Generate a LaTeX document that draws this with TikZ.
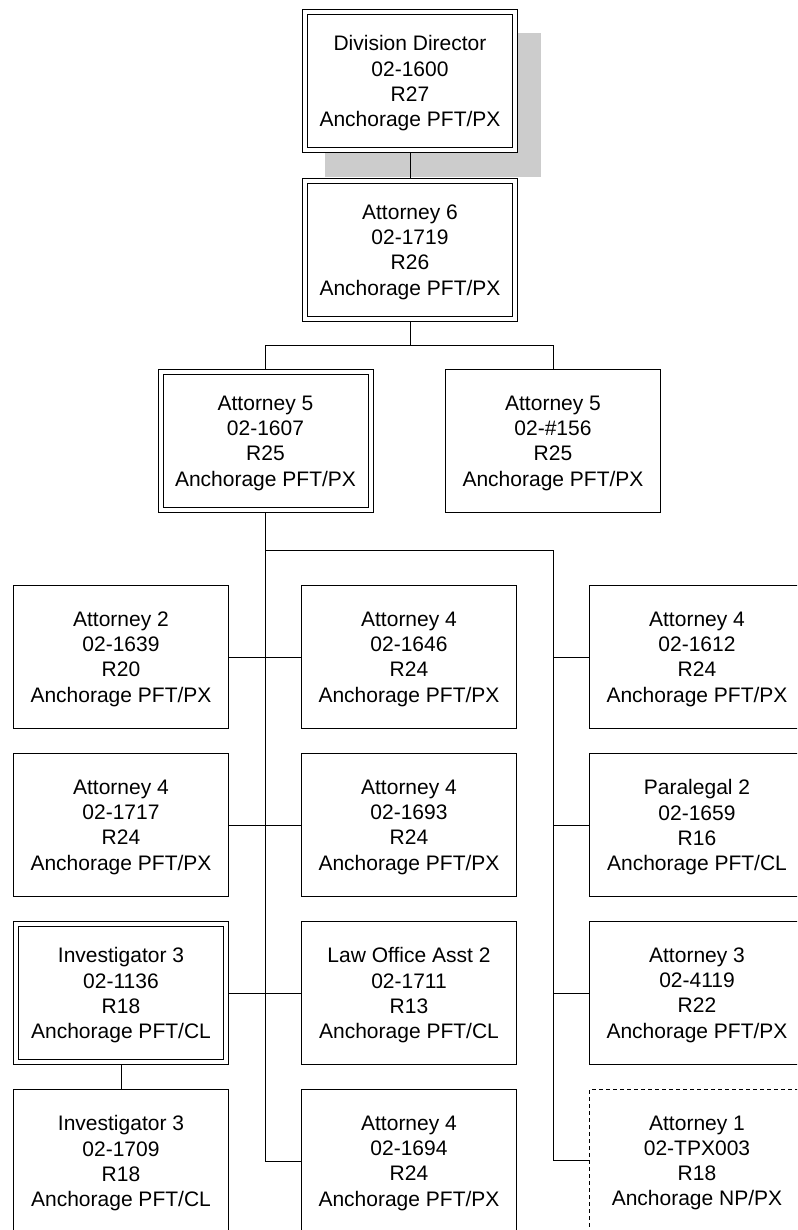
\documentclass[tikz,border=0pt]{standalone}
\usepackage{fontspec}
\setmainfont{Liberation Sans}
\usetikzlibrary{positioning}
\tikzset{post/.style = {draw, fill=white, line width=1pt, inner sep=0, align=center,
                        minimum width=215pt, minimum height=143pt, text depth=0pt,
                        font=\fontsize{21}{25.2}\selectfont}}
\tikzset{dbl/.style = {post, double, double distance=4pt, outer sep=3pt,
                       minimum width=210pt, minimum height=138pt}}
\tikzset{vacant/.style = {post, dash pattern=on 4pt off 3pt, line width=0.8pt}}
\tikzset{link/.style = {line width=1pt}}

\begin{document}
\begin{tikzpicture}[x=1pt, y=-1pt]
      \useasboundingbox (0, 0) rectangle (797, 1230);
      \clip (0, 0) rectangle (797, 1230);

      \fill [black!20] (325, 33) rectangle (541, 177);

      \node [dbl] (dir) at (410, 81) {Division Director\\02-1600\\R27\\Anchorage PFT/PX};
      \node [dbl, below=25pt of dir] (a6) {Attorney 6\\02-1719\\R26\\Anchorage PFT/PX};

      \node [dbl] (a5a) at (265.5, 441) {Attorney 5\\02-1607\\R25\\Anchorage PFT/PX};
      \node [post] (a5b) at (553, 441) {Attorney 5\\02-\#156\\R25\\Anchorage PFT/PX};

      % left column
      \node [post] (l1) at (121, 657) {Attorney 2\\02-1639\\R20\\Anchorage PFT/PX};
      \node [post, below=24pt of l1] (l2) {Attorney 4\\02-1717\\R24\\Anchorage PFT/PX};
      \node [dbl, below=24pt of l2] (l3) {Investigator 3\\02-1136\\R18\\Anchorage PFT/CL};
      \node [post, below=24pt of l3] (l4) {Investigator 3\\02-1709\\R18\\Anchorage PFT/CL};

      % middle column
      \node [post] (m1) at (409, 657) {Attorney 4\\02-1646\\R24\\Anchorage PFT/PX};
      \node [post, below=24pt of m1] (m2) {Attorney 4\\02-1693\\R24\\Anchorage PFT/PX};
      \node [post, below=24pt of m2] (m3) {Law Office Asst 2\\02-1711\\R13\\Anchorage PFT/CL};
      \node [post, below=24pt of m3] (m4) {Attorney 4\\02-1694\\R24\\Anchorage PFT/PX};

      % right column
      \node [post] (r1) at (697, 657) {Attorney 4\\02-1612\\R24\\Anchorage PFT/PX};
      \node [post, below=24pt of r1] (r2) {Paralegal 2\\02-1659\\R16\\Anchorage PFT/CL};
      \node [post, below=24pt of r2] (r3) {Attorney 3\\02-4119\\R22\\Anchorage PFT/PX};
      \node [vacant, below=24pt of r3] (r4) {Attorney 1\\02-TPX003\\R18\\Anchorage NP/PX};

      \draw [link] (dir) -- (a6);
      \draw [link] (a6.south) -- ++(0, 23);
      \draw [link] (a5a.north) -- ++(0, -24) -| (a5b.north);

      \draw [link] (a5a.south) -- (a5a.south |- m4.west) -- (m4.west);
      \path (a5a.south) ++(0, 37) coordinate (bus);
      \draw [link] (bus) -| (a5b.south |- r4.west) -- (r4.west);

      \foreach \i in {1, 2, 3} {
        \draw [link] (l\i.east) -- (m\i.west);
        \draw [link] (r\i.west) -- (r\i.west -| a5b.south);
      }
      \draw [link] (l3) -- (l4);
    \end{tikzpicture}
\end{document}
